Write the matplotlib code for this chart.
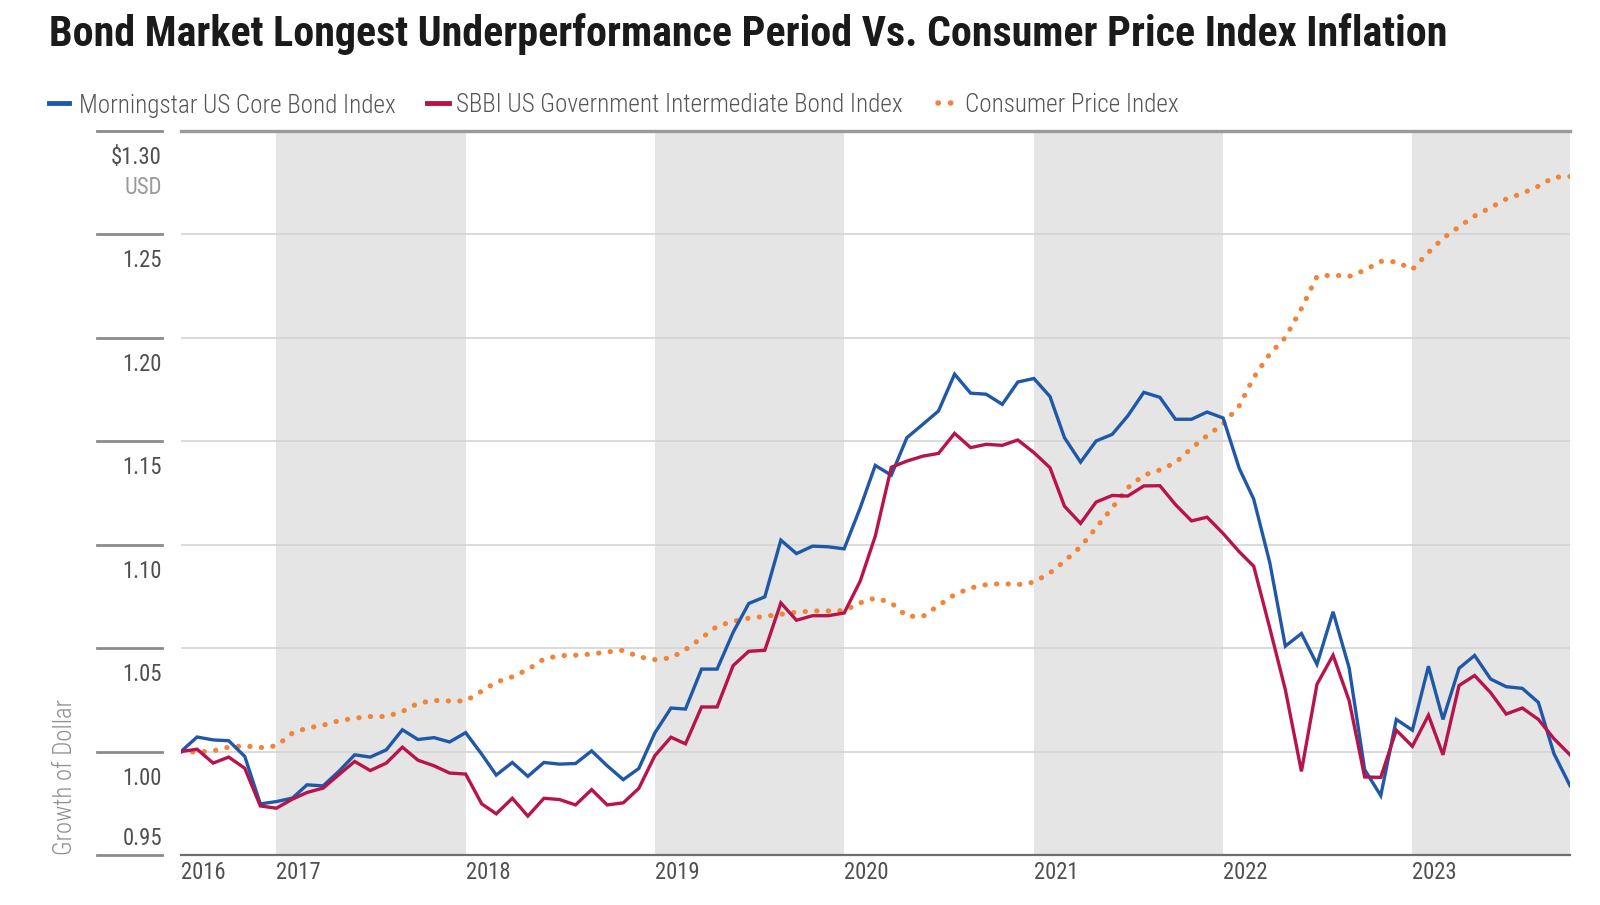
import matplotlib
matplotlib.use("Agg")
import matplotlib.pyplot as plt
from matplotlib.lines import Line2D
import pandas as pd

# monthly growth of $1, Jul 2016 .. Nov 2023
dates = pd.date_range("2016-07-01", periods=89, freq="MS")

core_bond = [
    1.000, 1.007, 1.0056, 1.0052, 0.9976, 0.9747, 0.9758, 0.9775, 0.9839, 0.9834,
    0.9903, 0.9984, 0.9973, 1.0008, 1.0105, 1.0058, 1.0067, 1.0046, 1.0091, 0.9987,
    0.9886, 0.9947, 0.9880, 0.9947, 0.9939, 0.9942, 1.0003, 0.9931, 0.9864, 0.9918,
    1.0090, 1.0210, 1.0205, 1.0398, 1.0398, 1.0576, 1.0715, 1.0747, 1.1021, 1.0956,
    1.0992, 1.0989, 1.0979, 1.1177, 1.1382, 1.1335, 1.1516, 1.1581, 1.1645, 1.1823,
    1.1731, 1.1726, 1.1677, 1.1785, 1.1802, 1.1715, 1.1516, 1.1398, 1.1500, 1.1532,
    1.1621, 1.1735, 1.1711, 1.1605, 1.1605, 1.1640, 1.1611, 1.1368, 1.1219, 1.0912,
    1.0509, 1.0570, 1.0421, 1.0675, 1.0404, 0.9912, 0.9787, 1.0155, 1.0103, 1.0412,
    1.0155, 1.0402, 1.0464, 1.0350, 1.0313, 1.0305, 1.0237, 0.9990, 0.9835,
]

sbbi_gov = [
    1.000, 1.0011, 0.9944, 0.9973, 0.9919, 0.9737, 0.9726, 0.9770, 0.9802, 0.9823,
    0.9887, 0.9952, 0.9908, 0.9944, 1.0021, 0.9958, 0.9931, 0.9896, 0.9891, 0.9747,
    0.9699, 0.9774, 0.9688, 0.9774, 0.9768, 0.9742, 0.9816, 0.9742, 0.9752, 0.9822,
    0.9980, 1.0069, 1.0037, 1.0215, 1.0215, 1.0415, 1.0484, 1.0489, 1.0718, 1.0634,
    1.0656, 1.0656, 1.0669, 1.0823, 1.1040, 1.1373, 1.1403, 1.1427, 1.1440, 1.1537,
    1.1468, 1.1484, 1.1479, 1.1505, 1.1444, 1.1371, 1.1185, 1.1102, 1.1205, 1.1237,
    1.1234, 1.1283, 1.1284, 1.1193, 1.1114, 1.1132, 1.1053, 1.0965, 1.0895, 1.0596,
    1.0298, 0.9904, 1.0325, 1.0465, 1.0246, 0.9877, 0.9875, 1.0103, 1.0025, 1.0175,
    0.9984, 1.0319, 1.0367, 1.0284, 1.0181, 1.0210, 1.0155, 1.0062, 0.9984,
]

cpi = [
    1.000, 0.9997, 1.0003, 1.0021, 1.0027, 1.0019, 1.0027, 1.0089, 1.0113, 1.0127,
    1.0148, 1.0161, 1.0169, 1.0169, 1.0193, 1.0233, 1.0247, 1.0244, 1.0244, 1.0292,
    1.0335, 1.0361, 1.0396, 1.0447, 1.0463, 1.0465, 1.0471, 1.0481, 1.0489, 1.0457,
    1.0444, 1.0452, 1.0492, 1.0548, 1.0605, 1.0629, 1.0644, 1.0653, 1.0663, 1.0673,
    1.0679, 1.0679, 1.0681, 1.0718, 1.0742, 1.0718, 1.0653, 1.0653, 1.0705, 1.0758,
    1.0790, 1.0806, 1.0811, 1.0806, 1.0818, 1.0863, 1.0919, 1.0989, 1.1081, 1.1177,
    1.1274, 1.1335, 1.1360, 1.1395, 1.1465, 1.1526, 1.1582, 1.1670, 1.1807, 1.1921,
    1.2000, 1.2140, 1.2295, 1.2302, 1.2295, 1.2325, 1.2368, 1.2366, 1.2329, 1.2411,
    1.2479, 1.2535, 1.2587, 1.2628, 1.2669, 1.2696, 1.2731, 1.2774, 1.2778,
]

series_names = [
    "Morningstar US Core Bond Index",
    "SBBI US Government Intermediate Bond Index",
    "Consumer Price Index",
]
year_labels = ["2016", "2017", "2018", "2019", "2020", "2021", "2022", "2023"]
shaded_years = [2017, 2019, 2021, 2023]
y_levels = [0.95, 1.00, 1.05, 1.10, 1.15, 1.20, 1.25, 1.30]
y_labels = ["0.95", "1.00", "1.05", "1.10", "1.15", "1.20", "1.25", "$1.30"]

BLUE = "#1f58a8"
RED = "#b8134a"
ORANGE = "#f2843a"
FONT = "Roboto Condensed"

W, H = 1600, 905
fig = plt.figure(figsize=(W / 100, H / 100), dpi=100)
ax = fig.add_axes([181 / W, 1 - 855 / H, 1389 / W, (855 - 130.5) / H])

# ---- bands + grid ----
for yr in shaded_years:
    end = min(pd.Timestamp(f"{yr + 1}-01-01"), dates[-1])
    ax.axvspan(pd.Timestamp(f"{yr}-01-01"), end, color="#e5e5e5", lw=0, zorder=0)

for v in y_levels:
    if v == 1.30:
        ax.axhline(v, color="#9a9a9a", lw=2.4, zorder=1, clip_on=False)
    elif v == 0.95:
        ax.axhline(v, color="#6e6e6e", lw=1.6, zorder=1, clip_on=False)
    else:
        ax.axhline(v, color="#d4d4d4", lw=1.2, zorder=1)
    # short stub left of the label column
    ax.axhline(v, xmin=-0.0605, xmax=-0.0137, color="#8c8c8c", lw=2.0, clip_on=False)

# ---- lines ----
ax.plot(dates, cpi, color=ORANGE, lw=3.7, linestyle=(0, (0.05, 2.2)),
        dash_capstyle="round", zorder=3)
ax.plot(dates, core_bond, color=BLUE, lw=2.4, zorder=4, solid_joinstyle="miter")
ax.plot(dates, sbbi_gov, color=RED, lw=2.4, zorder=5, solid_joinstyle="miter")

ax.set_xlim(dates[0], dates[-1])
ax.set_ylim(0.95, 1.30)
for s in ax.spines.values():
    s.set_visible(False)
ax.set_yticks([])

tick_pos = [dates[0]] + [pd.Timestamp(f"{y}-01-01") for y in range(2017, 2024)]
ax.set_xticks(tick_pos)
ax.set_xticklabels(year_labels, ha="left", family=FONT, color="#505050", fontsize=16)
ax.tick_params(axis="x", length=0, pad=4)

# y labels sit under their grid line (the bottom one above)
ylab = []
for v, lab in zip(y_levels, y_labels):
    off = 7 if v == 0.95 else -24
    t = ax.annotate(lab, (-0.0137, v), xycoords=("axes fraction", "data"),
                    xytext=(0, off), textcoords="offset points",
                    ha="right", va="baseline", family=FONT, color="#505050", fontsize=16)
    ylab.append(t)
usd = ax.annotate("USD", (-0.0137, 1.30), xycoords=("axes fraction", "data"),
                  xytext=(0, -45.5), textcoords="offset points",
                  ha="right", va="baseline", family=FONT, color="#9a9a9a", fontsize=16)

ylabel = fig.text(65 / W, 1 - 855 / H, "Growth of Dollar", rotation=90, ha="center", va="bottom",
                  family=FONT, weight="light", color="#8f8f8f", fontsize=15)

# ---- title ----
title = fig.text(49 / W, 1 - 46 / H,
                 "Bond Market Longest Underperformance Period Vs. Consumer Price Index Inflation",
                 ha="left", va="baseline", family=FONT, weight="bold", color="#1a1a1a", fontsize=30)

# ---- legend (drawn by hand to match spacing) ----
ly = 1 - 103 / H
fig.add_artist(Line2D([49 / W, 69 / W], [ly, ly], color=BLUE, lw=3.5, transform=fig.transFigure))
fig.add_artist(Line2D([427 / W, 449 / W], [ly, ly], color=RED, lw=3.5, transform=fig.transFigure))
fig.add_artist(Line2D([938 / W, 952 / W], [ly, ly], color=ORANGE, lw=4.0, linestyle=(0, (0.05, 2.2)),
                      dash_capstyle="round", transform=fig.transFigure))
leg = []
for xp, name in zip([79, 456, 965], series_names):
    leg.append(fig.text(xp / W, ly, name, ha="left", va="center_baseline",
                        family=FONT, weight="light", color="#555555", fontsize=17))

# fit text sizes to the reference layout
fig.canvas.draw()
r = fig.canvas.get_renderer()

def fit(t, px, use_height=False):
    bb = t.get_window_extent(r)
    cur = bb.height if use_height else bb.width
    t.set_fontsize(t.get_fontsize() * px / cur)
    return t.get_fontsize()

fit(title, 1397)
fit(leg[1], 449)
for t in (leg[0], leg[2]):
    t.set_fontsize(leg[1].get_fontsize())

tick_fs = fit(ax.get_xticklabels()[0], 45)
for t in ax.get_xticklabels():
    t.set_fontsize(tick_fs)
for t in ylab + [usd]:
    t.set_fontsize(tick_fs)
fit(ylabel, 156, use_height=True)

fig.savefig("out.png", dpi=100)
